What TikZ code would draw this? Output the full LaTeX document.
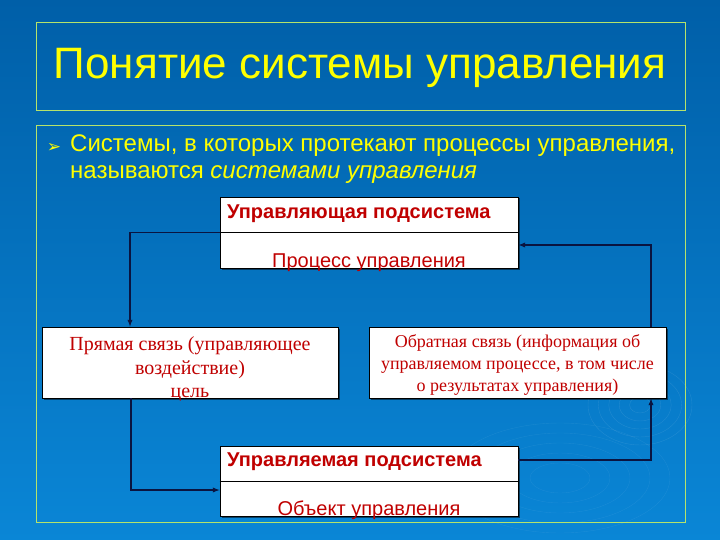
\documentclass[tikz,border=0pt]{standalone}
\usepackage{fontspec}
\setmainfont{Liberation Serif}
\setsansfont{Liberation Sans}
\newfontfamily\symfont{DejaVu Sans}
\usepackage{xcolor}
\usepackage{tikz}
\usetikzlibrary{shadows}
\definecolor{bgtop}{HTML}{005FA8}
\definecolor{bgbot}{HTML}{0A86D6}
\definecolor{frame}{HTML}{B6E36A}
\definecolor{ttl}{HTML}{FFFF00}
\definecolor{txt}{HTML}{C00000}
\definecolor{ink}{HTML}{0A1440}

\begin{document}
\begin{tikzpicture}[x=1pt, y=-1pt,
    box/.style = {draw=black, fill=white, line width=0.8pt, drop shadow={shadow xshift=1.5pt, shadow yshift=-1.5pt, fill=black, opacity=0.5}},
    frm/.style = {draw=frame, line width=0.8pt},
    head/.style = {font=\sffamily\bfseries\fontsize{20}{22}\selectfont, text=txt, inner sep=0pt},
    sub/.style = {font=\sffamily\fontsize{20}{22}\selectfont, text=txt, inner sep=0pt},
    note/.style = {font=\fontsize{18}{22}\selectfont, text=txt, align=center, inner sep=0pt},
    link/.style = {draw=ink, line width=1.3pt, -latex}]
    \fill[top color=bgtop, bottom color=bgbot] (0,0) rectangle (720,540);
    \useasboundingbox (0,0) rectangle (720,540);
    \foreach \r in {8,16,24,32,40}
        \draw[white, opacity=0.1] (640,405) ellipse ({1.3*\r pt} and {\r pt});
    \foreach \r in {30,50,70,90,110}
        \draw[white, opacity=0.07] (560,478) ellipse ({\r pt} and {0.5*\r pt});

    \draw[frm] (36,22) rectangle (685,110);
    \draw[frm] (36,125) rectangle (685,522);

    \node[font=\sffamily\fontsize{44}{48}\selectfont, text=ttl] (title) at (360,68) {Понятие системы управления};
    \node[text=ttl, font=\symfont\fontsize{17}{17}\selectfont] (bul) at (54,148) {➢};
    \node[anchor=north west, text=ttl, font=\sffamily\fontsize{24}{27}\selectfont, align=left, inner sep=0pt] (def) at (70,135)
        {Системы, в которых протекают процессы управления,\\называются \textit{системами управления}};

    \node[box, minimum width=298pt, minimum height=71pt] (upr) at (369,232.5) {};
    \draw (upr.west) -- (upr.east);
    \node[head, anchor=west] (upr-t) at (227,214) {Управляющая подсистема};
    \node[sub] (upr-p) at (369,263) {Процесс управления};

    \node[box, minimum width=296pt, minimum height=71pt] (pr) at (190,362.5) {};
    \node[note, font=\fontsize{20}{23.5}\selectfont] (pr-t) at (190,369) {Прямая связь (управляющее\\воздействие)\\цель};

    \node[box, minimum width=297pt, minimum height=71pt] (ob) at (517.5,362.5) {};
    \node[note] (ob-t) at (517.5,364.5) {Обратная связь (информация об\\управляемом процессе, в том числе\\о результатах управления)};

    \node[box, minimum width=298pt, minimum height=70pt] (ue) at (369,481) {};
    \draw (ue.west) -- (ue.east);
    \node[head, anchor=west] (ue-t) at (227,462) {Управляемая подсистема};
    \node[sub] (ue-p) at (369,510) {Объект управления};

    \draw[link] (upr.west) -| ([xshift=-60pt]pr.north);
    \draw[link] ([xshift=-59pt]pr.south) |- ([yshift=-9pt]ue.west);
    \draw[link] ([yshift=21pt]ue.east) -| ([xshift=133.5pt]ob.south);
    \draw[link] ([xshift=133.5pt]ob.north) |- ([yshift=-12.5pt]upr.east);
\end{tikzpicture}
\end{document}
